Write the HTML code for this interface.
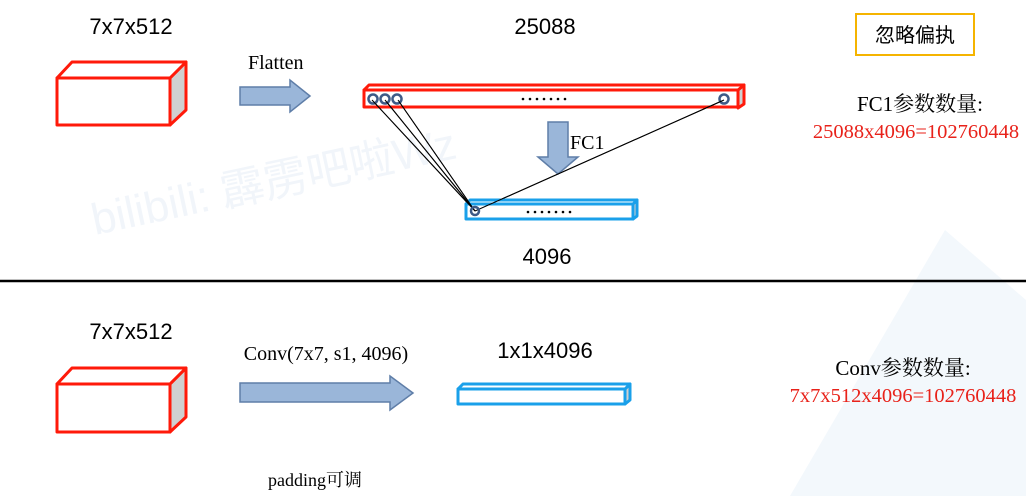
<!DOCTYPE html>
<html><head><meta charset="utf-8"><style>
html,body{margin:0;padding:0;background:#fff;}
svg{display:block;}
.s{font-family:"Liberation Sans","Noto Sans CJK SC",sans-serif;}
.r{font-family:"Liberation Serif","Noto Serif CJK SC","Noto Sans CJK SC",serif;}
</style></head><body>
<svg width="1026" height="496" viewBox="0 0 1026 496" xmlns="http://www.w3.org/2000/svg">
<!-- faint watermark -->
<text x="95" y="235" class="s" font-size="44" fill="#f1f5fa" transform="rotate(-12 95 235)">bilibili: 霹雳吧啦Wz</text>
<polygon points="945,230 1026,300 1026,496 790,496" fill="#f3f8fc"/>

<!-- top labels -->
<text x="131" y="34" class="s" font-size="22" text-anchor="middle">7x7x512</text>
<text x="545" y="34" class="s" font-size="22" text-anchor="middle">25088</text>
<text x="547" y="264" class="s" font-size="22" text-anchor="middle">4096</text>

<!-- top cube -->
<g stroke="#ff1a0a" stroke-width="3" stroke-linejoin="round">
<polygon points="170,78 186,62 186,110 170,125" fill="#d0d0d0"/>
<polygon points="57,78 72,62 186,62 170,78" fill="#fff"/>
<rect x="57" y="78" width="113" height="47" fill="#fff"/>
</g>

<!-- flatten arrow -->
<text x="248" y="69" class="r" font-size="20">Flatten</text>
<polygon points="240,87 290,87 290,80 310,96 290,112 290,105 240,105" fill="#9ab6d9" stroke="#5f7ea8" stroke-width="1.5"/>

<!-- red bar -->
<g stroke="#ff1a0a" stroke-width="3" stroke-linejoin="round">
<polygon points="738,90 744,85 744,104 738,108" fill="#d0d0d0"/>
<polygon points="364,90 369,85 744,85 738,90" fill="#fff"/>
<rect x="364" y="90" width="374" height="17" fill="#fff"/>
</g>
<g fill="#000">
<circle cx="523" cy="99" r="1.3"/><circle cx="530" cy="99" r="1.3"/><circle cx="537" cy="99" r="1.3"/><circle cx="544" cy="99" r="1.3"/><circle cx="551" cy="99" r="1.3"/><circle cx="558" cy="99" r="1.3"/><circle cx="565" cy="99" r="1.3"/>
</g>

<!-- connection lines -->
<g stroke="#000" stroke-width="1">
<line x1="372" y1="100" x2="475" y2="211"/>
<line x1="385" y1="100" x2="475" y2="211"/>
<line x1="398" y1="100" x2="475" y2="211"/>
<line x1="724" y1="100" x2="475" y2="211"/>
</g>
<g fill="#fff" stroke="#3e5a86" stroke-width="2.5">
<circle cx="373" cy="99" r="4.5"/><circle cx="385" cy="99" r="4.5"/><circle cx="397" cy="99" r="4.5"/><circle cx="724" cy="99" r="4.5"/>
</g>

<!-- FC1 arrow -->
<polygon points="548,122 568,122 568,157 578,157 558,174 538,157 548,157" fill="#9ab6d9" stroke="#5f7ea8" stroke-width="1.5"/>
<text x="570" y="149" class="r" font-size="20">FC1</text>

<!-- blue bar top -->
<g stroke="#1aa0ea" stroke-width="3" stroke-linejoin="round">
<polygon points="633,204 637,200 637,216 633,219" fill="#d0d0d0"/>
<polygon points="466,204 470,200 637,200 633,204" fill="#fff"/>
<rect x="466" y="204" width="167" height="15" fill="#fff"/>
</g>
<line x1="475" y1="211" x2="724" y2="100" stroke="#000" stroke-width="1"/>
<line x1="372" y1="100" x2="475" y2="211" stroke="#000" stroke-width="1"/>
<line x1="385" y1="100" x2="475" y2="211" stroke="#000" stroke-width="1"/>
<line x1="398" y1="100" x2="475" y2="211" stroke="#000" stroke-width="1"/>
<circle cx="475" cy="211" r="4" fill="none" stroke="#3e5a86" stroke-width="2.5"/>
<g fill="#000">
<circle cx="528" cy="212" r="1.3"/><circle cx="535" cy="212" r="1.3"/><circle cx="542" cy="212" r="1.3"/><circle cx="549" cy="212" r="1.3"/><circle cx="556" cy="212" r="1.3"/><circle cx="563" cy="212" r="1.3"/><circle cx="570" cy="212" r="1.3"/>
</g>

<!-- right top -->
<rect x="856" y="14" width="118" height="41" fill="#fff" stroke="#f5b400" stroke-width="2"/>
<text x="915" y="42" class="s" font-size="20" text-anchor="middle">忽略偏执</text>
<text x="920" y="111" class="r" font-size="21" text-anchor="middle">FC1参数数量:</text>
<text x="916" y="138" class="r" font-size="20.5" text-anchor="middle" fill="#e8221a">25088x4096=102760448</text>

<!-- separator -->
<line x1="0" y1="281" x2="1026" y2="281" stroke="#000" stroke-width="2.5"/>

<!-- bottom -->
<text x="131" y="339" class="s" font-size="22" text-anchor="middle">7x7x512</text>
<g stroke="#ff1a0a" stroke-width="3" stroke-linejoin="round">
<polygon points="170,384 186,368 186,417 170,432" fill="#d0d0d0"/>
<polygon points="57,384 72,368 186,368 170,384" fill="#fff"/>
<rect x="57" y="384" width="113" height="48" fill="#fff"/>
</g>
<text x="326" y="360" class="r" font-size="20" text-anchor="middle">Conv(7x7, s1, 4096)</text>
<polygon points="240,383 390,383 390,376 413,393 390,410 390,402 240,402" fill="#9ab6d9" stroke="#5f7ea8" stroke-width="1.5"/>
<text x="545" y="358" class="s" font-size="22" text-anchor="middle">1x1x4096</text>
<g stroke="#1aa0ea" stroke-width="3" stroke-linejoin="round">
<polygon points="625,389 630,384 630,400 625,404" fill="#d0d0d0"/>
<polygon points="458,389 463,384 630,384 625,389" fill="#fff"/>
<rect x="458" y="389" width="167" height="15" fill="#fff"/>
</g>
<text x="268" y="486" class="r" font-size="18">padding可调</text>
<text x="903" y="375" class="r" font-size="21" text-anchor="middle">Conv参数数量:</text>
<text x="903" y="402" class="r" font-size="20.5" text-anchor="middle" fill="#e8221a">7x7x512x4096=102760448</text>
</svg>
</body></html>
